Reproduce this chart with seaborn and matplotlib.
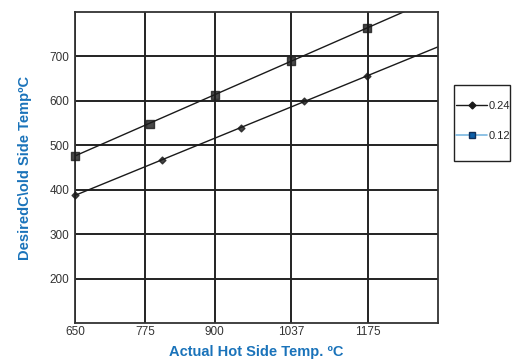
import numpy as np
import pandas as pd
import matplotlib
matplotlib.use("Agg")
import matplotlib.pyplot as plt
from matplotlib.lines import Line2D
from matplotlib.patches import Rectangle
import seaborn as sns

# values
hot_024 = [650, 805, 947, 1060, 1172]
cold_024 = [387, 467, 540, 599, 655]
hot_012 = [650, 785, 900, 1037, 1172]
cold_012 = [477, 549, 614, 689, 764]

xticks = [650, 775, 900, 1037, 1175]
xtick_labels = ["650", "775", "900", "1037", "1175"]
yticks = [200, 300, 400, 500, 600, 700]

blue = "#1a73ba"

sns.set_style("white")
plt.rcParams["font.family"] = ["Liberation Sans", "DejaVu Sans"]

fig = plt.figure(figsize=(5.12, 3.62), dpi=100)
ax = fig.add_axes([75 / 512, 1 - 323 / 362, 363 / 512, 311 / 362])
ax.set_xlim(650, 1300)
ax.set_ylim(100, 800)

df24 = pd.DataFrame({"hot": hot_024, "cold": cold_024})
df12 = pd.DataFrame({"hot": hot_012, "cold": cold_012})

sns.regplot(data=df24, x="hot", y="cold", ax=ax, ci=None, truncate=False,
            marker="D", color="#1a1a1a",
            scatter_kws={"s": 12, "zorder": 5, "clip_on": False},
            line_kws={"lw": 1.0})
sns.regplot(data=df12, x="hot", y="cold", ax=ax, ci=None, truncate=False,
            marker="s", color="#1a1a1a",
            scatter_kws={"s": 30, "zorder": 5, "clip_on": False},
            line_kws={"lw": 1.0})

ax.set_xlim(650, 1300)
ax.set_ylim(100, 800)
ax.set_xticks(xticks)
ax.set_xticklabels(xtick_labels)
ax.set_yticks(yticks)
ax.grid(True, color="#222222", lw=1.4)
ax.tick_params(axis="x", length=0, labelsize=8.5, colors="#333333", pad=2)
ax.tick_params(axis="y", length=0, labelsize=8.5, colors="#333333", pad=4)
for s in ax.spines.values():
    s.set_visible(True)
    s.set_color("#333333")
    s.set_linewidth(1.3)

ax.set_xlabel("Actual Hot Side Temp. ºC", color=blue, fontsize=10.5,
              fontweight="bold", labelpad=5)
ax.set_ylabel("DesiredC\\old Side TempºC", color=blue, fontsize=10.5,
              fontweight="bold", labelpad=13)

# legend box drawn separately so it can be taller than the entries need
fig.patches.append(Rectangle((454 / 512, 1 - 161 / 362), 56 / 512, 76 / 362,
                             transform=fig.transFigure, fill=False,
                             edgecolor="#222222", lw=1.0))
handles = [
    Line2D([], [], color="#1a1a1a", lw=1, marker="D", markersize=3.5),
    Line2D([], [], color="#7ab8e0", lw=1.2, marker="s", markersize=5,
           markerfacecolor="#0b5ea8", markeredgecolor="#10305a"),
]
fig.legend(handles, ["0.24", "0.12"], loc="center left",
           bbox_to_anchor=(456 / 512, 1 - 121 / 362), frameon=False,
           fontsize=8, handlelength=2.8, handletextpad=0.15,
           labelspacing=1.75, borderpad=0, borderaxespad=0)

fig.savefig("out.png", dpi=100)
